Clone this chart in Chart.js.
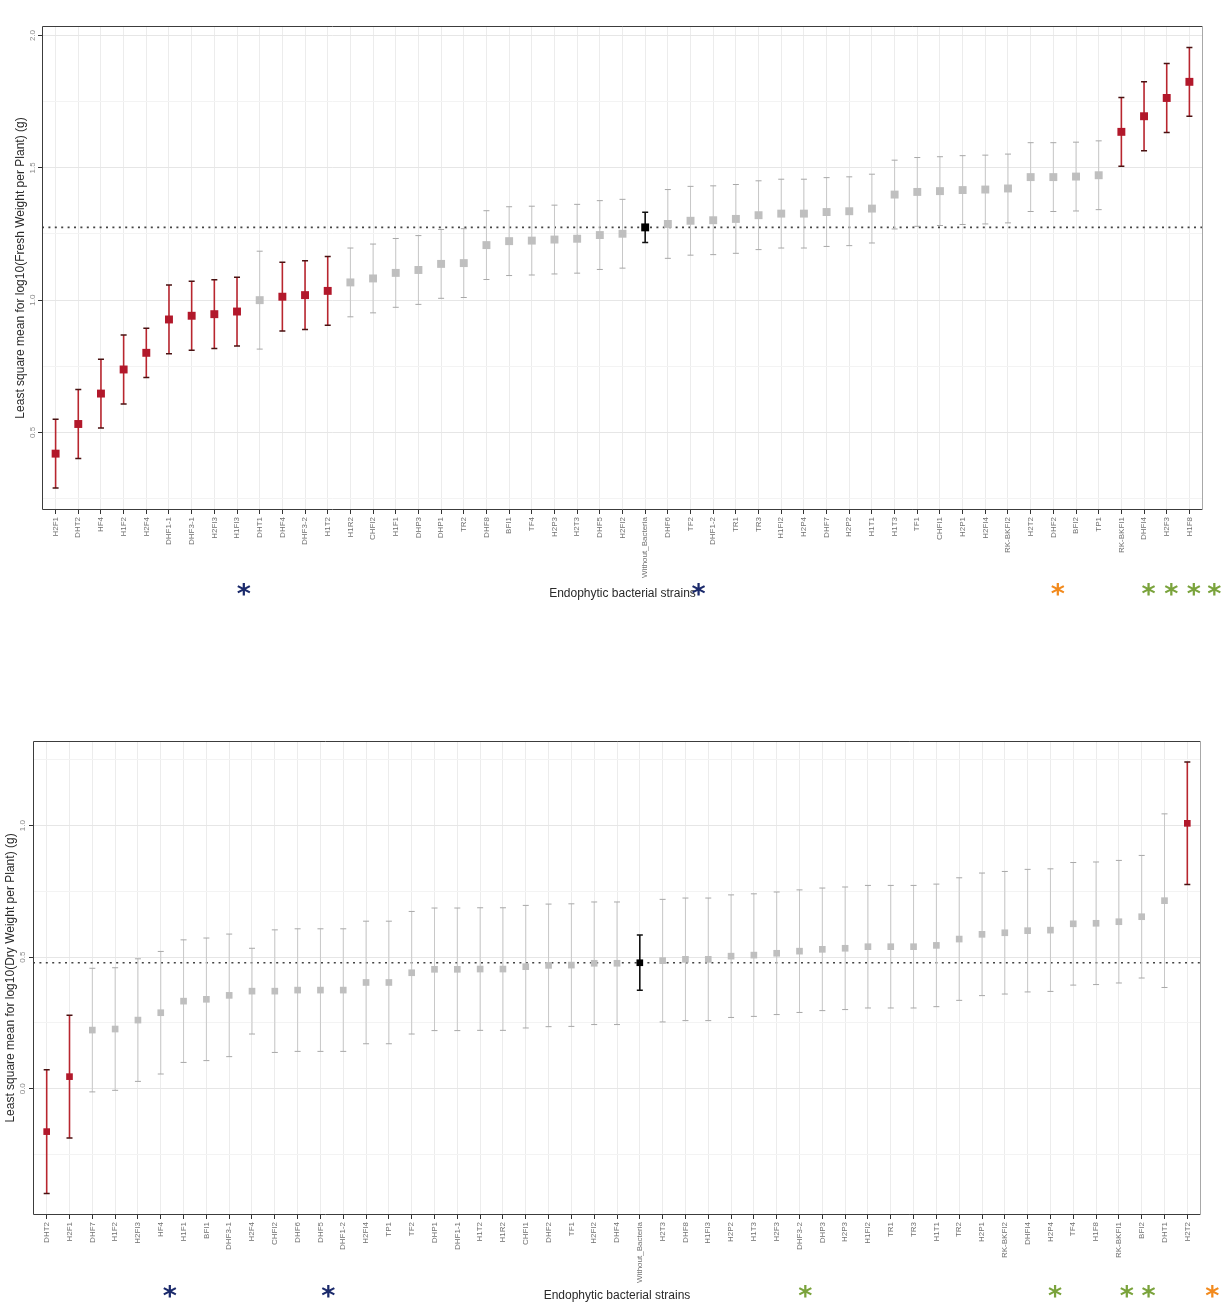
<!DOCTYPE html>
<html>
<head>
<meta charset="utf-8">
<title>Endophytic bacterial strains</title>
<script src="https://cdn.jsdelivr.net/npm/chart.js@4.4.1/dist/chart.umd.min.js"></script>
<style>
  body { margin: 0; background: #fff; }
  canvas { position: absolute; left: 0; }
  #freshChart { top: 0; }
  #dryChart { top: 700px; }
</style>
</head>
<body>
<canvas id="freshChart" width="1231" height="612"></canvas>
<canvas id="dryChart" width="1231" height="605"></canvas>
<script>
// top panel: log10 fresh weight
const freshStrains = ['H2F1','DHT2','HF4','H1F2','H2F4','DHF1-1','DHF3-1','H2FI3','H1FI3','DHT1','DHF4','DHF3-2','H1T2','H1R2','CHFI2','H1F1','DHP3','DHP1','TR2','DHF8','BFI1','TF4','H2P3','H2T3','DHF5','H2FI2','Without_Bacteria','DHF6','TF2','DHF1-2','TR1','TR3','H1FI2','H2P4','DHF7','H2P2','H1T1','H1T3','TF1','CHFI1','H2P1','H2FI4','RK-BKFI2','H2T2','DHF2','BFI2','TP1','RK-BKFI1','DHFI4','H2F3','H1F8'];
const freshMean = [0.42,0.532,0.647,0.738,0.801,0.927,0.941,0.947,0.957,1.000,1.013,1.019,1.035,1.067,1.082,1.103,1.114,1.137,1.140,1.208,1.223,1.225,1.229,1.232,1.246,1.251,1.275,1.288,1.300,1.302,1.307,1.321,1.327,1.327,1.333,1.336,1.346,1.399,1.409,1.412,1.416,1.418,1.422,1.465,1.465,1.467,1.472,1.636,1.695,1.764,1.825];
const freshErr = [0.13,0.13,0.13,0.13,0.093,0.13,0.13,0.13,0.13,0.185,0.13,0.13,0.13,0.13,0.13,0.13,0.13,0.13,0.13,0.13,0.13,0.13,0.13,0.13,0.13,0.13,0.057,0.13,0.13,0.13,0.13,0.13,0.13,0.13,0.13,0.13,0.13,0.13,0.13,0.13,0.13,0.13,0.13,0.13,0.13,0.13,0.13,0.13,0.13,0.13,0.13];
// r = differs from control, g = no difference, c = control
const freshGroup = ['r','r','r','r','r','r','r','r','r','g','r','r','r','g','g','g','g','g','g','g','g','g','g','g','g','g','c','g','g','g','g','g','g','g','g','g','g','g','g','g','g','g','g','g','g','g','g','r','r','r','r'];
const freshTicks = [0.5, 1.0, 1.5, 2.0];
const freshMinor = [0.25, 0.75, 1.25, 1.75];
const freshStarAt = [8.3, 28.35, 44.2, 48.2, 49.2, 50.2, 51.1];
const freshStarColor = ['blue','blue','orange','green','green','green','green'];

// bottom panel: log10 dry weight
const dryStrains = ['DHT2','H2F1','DHF7','H1F2','H2FI3','HF4','H1F1','BFI1','DHF3-1','H2F4','CHFI2','DHF6','DHF5','DHF1-2','H2FI4','TP1','TF2','DHP1','DHF1-1','H1T2','H1R2','CHFI1','DHF2','TF1','H2FI2','DHF4','Without_Bacteria','H2T3','DHF8','H1FI3','H2P2','H1T3','H2F3','DHF3-2','DHP3','H2P3','H1FI2','TR1','TR3','H1T1','TR2','H2P1','RK-BKFI2','DHFI4','H2P4','TF4','H1F8','RK-BKFI1','BFI2','DHT1','H2T2'];
const dryMean = [-0.163,0.046,0.223,0.227,0.261,0.289,0.333,0.340,0.355,0.371,0.371,0.375,0.375,0.375,0.404,0.404,0.441,0.454,0.454,0.455,0.455,0.464,0.469,0.470,0.477,0.477,0.479,0.487,0.492,0.492,0.504,0.508,0.515,0.523,0.530,0.534,0.540,0.540,0.540,0.545,0.569,0.587,0.593,0.601,0.603,0.627,0.629,0.635,0.654,0.715,1.009];
const dryErr = [0.235,0.233,0.235,0.233,0.233,0.233,0.233,0.233,0.233,0.163,0.233,0.233,0.233,0.233,0.233,0.233,0.233,0.233,0.233,0.233,0.233,0.233,0.233,0.233,0.233,0.233,0.105,0.233,0.233,0.233,0.233,0.233,0.233,0.233,0.233,0.233,0.233,0.233,0.233,0.233,0.233,0.233,0.233,0.233,0.233,0.233,0.233,0.233,0.233,0.33,0.233];
const dryGroup = ['r','r','g','g','g','g','g','g','g','g','g','g','g','g','g','g','g','g','g','g','g','g','g','g','g','g','c','g','g','g','g','g','g','g','g','g','g','g','g','g','g','g','g','g','g','g','g','g','g','g','r'];
const dryTicks = [0.0, 0.5, 1.0];
const dryMinor = [-0.25, 0.25, 0.75, 1.25];
const dryStarAt = [5.4, 12.35, 33.25, 44.2, 47.35, 48.3, 51.1];
const dryStarColor = ['blue','blue','green','green','green','green','orange'];

const pointColors = { r: '#b2182b', g: '#bfbfbf', c: '#000000' };
const barColors = { r: '#b8262f', g: '#c8c8c8', c: '#111111' };
const capColors = { r: '#4a1212', g: '#a8a8a8', c: '#111111' };
const starColors = { blue: '#1b2a6b', orange: '#f28a1d', green: '#7aa33c' };
const FONT = '"Liberation Sans", Arial, sans-serif';

function makeExtras(d) {
  return {
    id: 'ggExtras',
    beforeDatasetsDraw(chart) {
      const { ctx, chartArea: a, scales: { x, y } } = chart;
      ctx.save();
      // dotted line at the control mean
      const yc = y.getPixelForValue(d.mean[d.group.indexOf('c')]);
      ctx.strokeStyle = '#444';
      ctx.lineWidth = 1.6;
      ctx.setLineDash([2, 4.4]);
      ctx.beginPath();
      ctx.moveTo(a.left, yc);
      ctx.lineTo(a.right, yc);
      ctx.stroke();
      ctx.setLineDash([]);
      // error bars
      d.mean.forEach((m, i) => {
        const g = d.group[i];
        const px = x.getPixelForValue(i);
        const y1 = y.getPixelForValue(m + d.err[i]);
        const y2 = y.getPixelForValue(m - d.err[i]);
        ctx.strokeStyle = barColors[g];
        ctx.lineWidth = g === 'g' ? 1 : 1.6;
        ctx.beginPath();
        ctx.moveTo(px, y1);
        ctx.lineTo(px, y2);
        ctx.stroke();
        ctx.strokeStyle = capColors[g];
        ctx.lineWidth = g === 'g' ? 1 : 1.5;
        ctx.beginPath();
        ctx.moveTo(px - 3, y1); ctx.lineTo(px + 3, y1);
        ctx.moveTo(px - 3, y2); ctx.lineTo(px + 3, y2);
        ctx.stroke();
      });
      ctx.restore();
    },
    afterDraw(chart) {
      const { ctx, chartArea: a, scales: { x, y } } = chart;
      ctx.save();
      // panel border
      ctx.lineWidth = 1;
      ctx.strokeStyle = '#3c3c3c';
      ctx.beginPath();
      ctx.moveTo(a.right, a.top + 0.5);
      ctx.lineTo(a.left + 0.5, a.top + 0.5);
      ctx.lineTo(a.left + 0.5, a.bottom - 0.5);
      ctx.lineTo(a.right, a.bottom - 0.5);
      ctx.stroke();
      ctx.strokeStyle = '#a8a8a8';
      ctx.beginPath();
      ctx.moveTo(a.right - 0.5, a.top);
      ctx.lineTo(a.right - 0.5, a.bottom);
      ctx.stroke();
      // y tick labels, rotated like the original
      ctx.fillStyle = '#8a8a8a';
      ctx.font = '8px ' + FONT;
      ctx.textAlign = 'center';
      ctx.textBaseline = 'middle';
      d.ticks.forEach(v => {
        ctx.save();
        ctx.translate(d.tickX, y.getPixelForValue(v));
        ctx.rotate(-Math.PI / 2);
        ctx.fillText(v.toFixed(1), 0, 0);
        ctx.restore();
      });
      // significance stars
      ctx.font = 'bold 27px "DejaVu Sans", sans-serif';
      d.starAt.forEach((p, i) => {
        ctx.fillStyle = starColors[d.starColor[i]];
        ctx.fillText('*', x.getPixelForValue(p), d.starY);
      });
      ctx.restore();
    }
  };
}

function makeChart(id, d) {
  const all = d.ticks.concat(d.minor).sort((p, q) => p - q);
  return new Chart(document.getElementById(id), {
    type: 'scatter',
    data: {
      datasets: [{
        data: d.mean.map((m, i) => ({ x: i, y: m })),
        pointStyle: 'rect',
        pointRadius: d.radius,
        pointHoverRadius: d.radius,
        backgroundColor: d.group.map(g => pointColors[g]),
        borderWidth: 0
      }]
    },
    options: {
      responsive: false,
      animation: false,
      layout: { padding: d.padding },
      plugins: { legend: { display: false }, tooltip: { enabled: false } },
      scales: {
        x: {
          type: 'linear',
          min: -0.6,
          max: d.labels.length - 0.4,
          afterBuildTicks: s => { s.ticks = d.labels.map((_, i) => ({ value: i })); },
          afterFit: s => { s.height = d.xHeight; },
          ticks: {
            autoSkip: false,
            minRotation: 90,
            maxRotation: 90,
            padding: 3,
            color: '#707070',
            font: { family: FONT, size: 8 },
            callback: v => d.labels[v]
          },
          grid: { color: '#ececec', tickColor: '#333', tickLength: 4 },
          border: { display: false },
          title: {
            display: true,
            text: 'Endophytic bacterial strains',
            color: '#2a2a2a',
            font: { family: FONT, size: 12 },
            padding: { top: 0, bottom: d.xTitlePad }
          }
        },
        y: {
          min: d.yMin,
          max: d.yMax,
          afterBuildTicks: s => { s.ticks = all.map(v => ({ value: v })); },
          afterFit: s => { s.width = d.yWidth; },
          ticks: { display: false },
          grid: {
            color: c => d.ticks.includes(c.tick.value) ? '#e6e6e6' : '#f3f3f3',
            tickColor: c => d.ticks.includes(c.tick.value) ? '#333' : 'rgba(0,0,0,0)',
            tickLength: 4
          },
          border: { display: false },
          title: {
            display: true,
            text: d.yTitle,
            color: '#2a2a2a',
            font: { family: FONT, size: 12 },
            padding: { top: d.yTitlePad, bottom: 0 }
          }
        }
      }
    },
    plugins: [makeExtras(d)]
  });
}

makeChart('freshChart', {
  labels: freshStrains, mean: freshMean, err: freshErr, group: freshGroup,
  ticks: freshTicks, minor: freshMinor, starAt: freshStarAt, starColor: freshStarColor,
  yMin: 0.207, yMax: 2.036, radius: 5.6,
  padding: { top: 26, right: 28, left: 0, bottom: 0 },
  xHeight: 102, yWidth: 42, tickX: 33, starY: 596,
  xTitlePad: 11, yTitlePad: 13,
  yTitle: 'Least square mean for log10(Fresh Weight per Plant) (g)'
});

makeChart('dryChart', {
  labels: dryStrains, mean: dryMean, err: dryErr, group: dryGroup,
  ticks: dryTicks, minor: dryMinor, starAt: dryStarAt, starColor: dryStarColor,
  yMin: -0.48, yMax: 1.322, radius: 4.7,
  padding: { top: 41, right: 30, left: 0, bottom: 0 },
  xHeight: 90, yWidth: 33, tickX: 23, starY: 598,
  xTitlePad: 2, yTitlePad: 3,
  yTitle: 'Least square mean for log10(Dry Weight per Plant) (g)'
});
</script>
</body>
</html>
